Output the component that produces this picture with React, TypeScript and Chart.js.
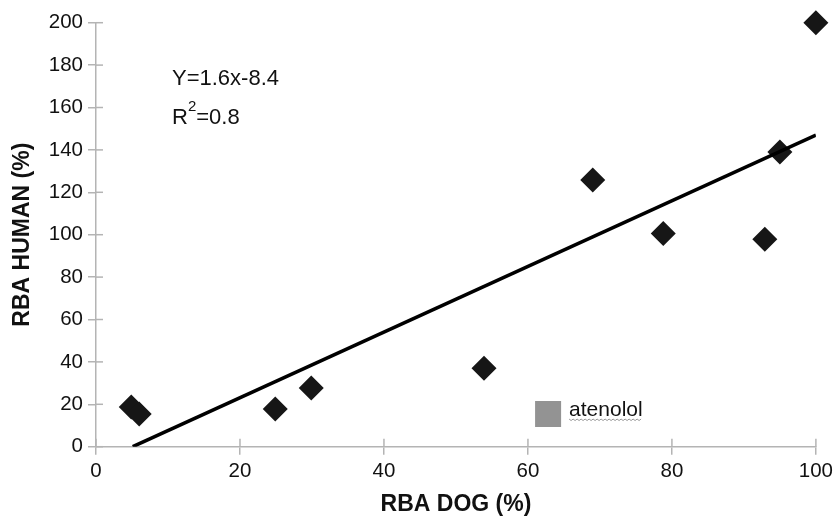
import React, { useEffect, useRef } from "react";
import { Chart, registerables } from "chart.js";

Chart.register(...registerables);

const dogX = [4.9, 6.0, 24.9, 29.9, 53.9, 69.0, 78.8, 92.9, 95.0, 100];
const humanY = [18.7, 15.4, 17.8, 27.7, 37, 125.8, 100.6, 97.8, 139, 200];
const atenololX = [62.8];
const atenololY = [15.4];
const trendX = [5.1, 100];
const trendY = [0, 147];
const xTicks = [0, 20, 40, 60, 80, 100];
const yTicks = [0, 20, 40, 60, 80, 100, 120, 140, 160, 180, 200];
const equationText = "Y=1.6x-8.4";
const r2Text = "=0.8";
const atenololLabel = "atenolol";

const FONT = '"Liberation Sans", Arial, sans-serif';
const AXIS_COLOR = "#b4b4b4";

const overlayPlugin = {
  id: "overlay",
  afterDatasetsDraw(chart: any) {
    const { ctx, scales } = chart;
    const xs = scales.x;
    const ys = scales.y;
    ctx.save();
    // inner halves of tick marks (crossing ticks)
    ctx.strokeStyle = AXIS_COLOR;
    ctx.lineWidth = 1.5;
    xTicks.forEach((v) => {
      const px = xs.getPixelForValue(v);
      ctx.beginPath();
      ctx.moveTo(px, ys.bottom);
      ctx.lineTo(px, ys.bottom - 8);
      ctx.stroke();
    });
    yTicks.forEach((v) => {
      const py = ys.getPixelForValue(v);
      ctx.beginPath();
      ctx.moveTo(xs.left, py);
      ctx.lineTo(xs.left + 7, py);
      ctx.stroke();
    });

    // equation text
    ctx.fillStyle = "#111";
    ctx.textBaseline = "alphabetic";
    ctx.textAlign = "left";
    ctx.font = `22px ${FONT}`;
    ctx.fillText(equationText, 172, 85);
    ctx.fillText("R", 172, 124);
    const rw = ctx.measureText("R").width;
    ctx.font = `15px ${FONT}`;
    ctx.fillText("2", 172 + rw, 111);
    const tw = ctx.measureText("2").width;
    ctx.font = `22px ${FONT}`;
    ctx.fillText(r2Text, 172 + rw + tw, 124);

    // atenolol label
    const ax = xs.getPixelForValue(atenololX[0]);
    const ay = ys.getPixelForValue(atenololY[0]);
    ctx.font = `21px ${FONT}`;
    const lx = ax + 21;
    const ly = ay + 2;
    ctx.fillText(atenololLabel, lx, ly);
    const lw = ctx.measureText(atenololLabel).width;
    ctx.strokeStyle = "#9a9a9a";
    ctx.lineWidth = 1;
    ctx.beginPath();
    for (let i = 0; i <= lw; i += 2) {
      const yy = ly + 3 + (i % 4 === 0 ? 0 : 1.5);
      if (i === 0) ctx.moveTo(lx + i, yy);
      else ctx.lineTo(lx + i, yy);
    }
    ctx.stroke();
    ctx.restore();
  },
};

export default function App() {
  const ref = useRef<HTMLCanvasElement | null>(null);
  useEffect(() => {
    if (!ref.current) return;
    const chart = new Chart(ref.current, {
      type: "scatter",
      data: {
        datasets: [
          {
            type: "line",
            data: trendX.map((x, i) => ({ x, y: trendY[i] })),
            borderColor: "#000",
            borderWidth: 3.5,
            pointRadius: 0,
            showLine: true,
            fill: false,
            order: 0,
          } as any,
          {
            data: dogX.map((x, i) => ({ x, y: humanY[i] })),
            pointStyle: "rectRot",
            pointRadius: 12.5,
            backgroundColor: "#161616",
            borderColor: "#161616",
            borderWidth: 0,
            clip: false,
            order: 1,
          },
          {
            data: atenololX.map((x, i) => ({ x, y: atenololY[i] })),
            pointStyle: "rect",
            pointRadius: 18.4,
            backgroundColor: "#939393",
            borderColor: "#939393",
            borderWidth: 0,
            order: 2,
          },
        ],
      },
      options: {
        animation: false,
        responsive: true,
        maintainAspectRatio: false,
        layout: { padding: { top: 22.7, right: 21, left: 0, bottom: 0 } },
        plugins: {
          legend: { display: false },
          tooltip: { enabled: false },
        },
        scales: {
          x: {
            type: "linear",
            min: 0,
            max: 100,
            afterBuildTicks: (s: any) => {
              s.ticks = xTicks.map((v) => ({ value: v }));
            },
            afterFit: (s: any) => {
              s.height = 69.3;
            },
            grid: {
              drawOnChartArea: false,
              drawTicks: true,
              tickLength: 8,
              color: AXIS_COLOR,
              lineWidth: 1.5,
            },
            border: { color: AXIS_COLOR, width: 1.5 },
            ticks: {
              color: "#111",
              font: { family: FONT, size: 20.5 },
              padding: 4,
              maxRotation: 0,
            },
            title: {
              display: true,
              text: "RBA DOG (%)",
              color: "#111",
              font: { family: FONT, size: 23, weight: "bold", lineHeight: 1 },
              padding: { top: 0, bottom: 0 },
            },
          },
          y: {
            type: "linear",
            min: 0,
            max: 200,
            afterBuildTicks: (s: any) => {
              s.ticks = yTicks.map((v) => ({ value: v }));
            },
            afterFit: (s: any) => {
              s.width = 96;
            },
            grid: {
              drawOnChartArea: false,
              drawTicks: true,
              tickLength: 8,
              color: AXIS_COLOR,
              lineWidth: 1.5,
            },
            border: { color: AXIS_COLOR, width: 1.5 },
            ticks: {
              color: "#111",
              font: { family: FONT, size: 20.5 },
              padding: 5,
            },
            title: {
              display: true,
              text: "RBA HUMAN (%)",
              color: "#111",
              font: { family: FONT, size: 23, weight: "bold", lineHeight: 1 },
              padding: { top: 11, bottom: 0 },
            },
          },
        },
      },
      plugins: [overlayPlugin],
    });
    return () => chart.destroy();
  }, []);
  return (
    <div
      style={{
        position: "fixed",
        left: 0,
        top: 0,
        width: 837,
        height: 516,
        background: "#fff",
      }}
    >
      <canvas ref={ref} />
    </div>
  );
}
